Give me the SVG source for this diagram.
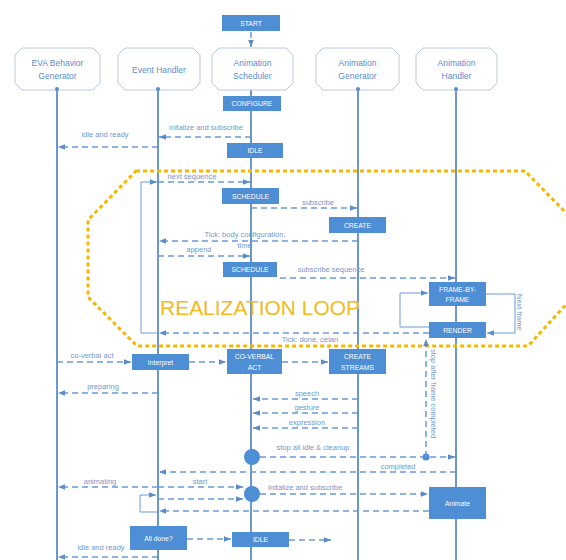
<svg xmlns="http://www.w3.org/2000/svg" width="566" height="560" viewBox="0 0 566 560">
<style>
.hdr{fill:#fff;stroke:#b9c9dd;stroke-width:1}
.hdt{font-family:"Liberation Sans",Arial,sans-serif;font-size:8.5px;fill:#5d8ccb;text-anchor:middle}
.life{stroke:#5a8cc9;stroke-width:1.8;fill:none}
.box{fill:#4e8ed4}
.bt{font-family:"Liberation Sans",Arial,sans-serif;font-size:6.8px;fill:#fff;text-anchor:middle}
.da{stroke:#6b9bd6;stroke-width:1.5;stroke-dasharray:6 4;fill:none}
.sl{stroke:#6b9bd6;stroke-width:1;fill:none}
.lbl{font-family:"Liberation Sans",Arial,sans-serif;font-size:7.5px;fill:#7398c9;text-anchor:middle}
.rot{font-family:"Liberation Sans",Arial,sans-serif;font-size:7.5px;fill:#7398c9;text-anchor:start}
.dot{fill:#4e8ed4}
</style>
<defs>
<marker id="ah" viewBox="0 0 10 10" refX="10" refY="5" markerWidth="7" markerHeight="7" markerUnits="userSpaceOnUse" orient="auto"><path d="M0,1 L10,5 L0,9 z" fill="#5a8cc9"/></marker>
</defs>
<rect width="566" height="560" fill="#fff"/>

<g id="lifelines">
<line class="life" x1="57" y1="90" x2="57" y2="560"/>
<line class="life" x1="158" y1="90" x2="158" y2="560"/>
<line class="life" x1="251" y1="90" x2="251" y2="560"/>
<line class="life" x1="358" y1="90" x2="358" y2="560"/>
<line class="life" x1="456" y1="90" x2="456" y2="560"/>
</g>

<g id="loop-region">
<polygon points="136,171 525,171 573,220 573,297 528,346 137,346 88,297 88,220" fill="none" stroke="#f5b800" stroke-width="3" stroke-dasharray="4 3"/>
<text x="160" y="315" font-family="Liberation Sans,Arial,sans-serif" font-size="20" fill="#f2ba1a" textLength="200" lengthAdjust="spacingAndGlyphs">REALIZATION LOOP</text>
</g>

<g id="eva">
<path class="hdr" d="M22,48 H93 L100,55 V83 L93,90 H22 L15,83 V55 Z"/>
<text class="hdt" x="57.5" y="66">EVA Behavior</text>
<text class="hdt" x="57.5" y="79">Generator</text>
<circle class="dot" cx="57" cy="89" r="2"/>
</g>
<g id="event-handler">
<path class="hdr" d="M125,48 H193 L200,55 V83 L193,90 H125 L118,83 V55 Z"/>
<text class="hdt" x="159" y="73">Event Handler</text>
<circle class="dot" cx="158" cy="89" r="2"/>
</g>
<g id="animation-scheduler">
<path class="hdr" d="M219,48 H286 L293,55 V83 L286,90 H219 L212,83 V55 Z"/>
<text class="hdt" x="252.5" y="66">Animation</text>
<text class="hdt" x="252.5" y="79">Scheduler</text>
</g>
<g id="animation-generator">
<path class="hdr" d="M323,48 H392 L399,55 V83 L392,90 H323 L316,83 V55 Z"/>
<text class="hdt" x="357.5" y="66">Animation</text>
<text class="hdt" x="357.5" y="79">Generator</text>
<circle class="dot" cx="358" cy="89" r="2"/>
</g>
<g id="animation-handler">
<path class="hdr" d="M423,48 H490 L497,55 V83 L490,90 H423 L416,83 V55 Z"/>
<text class="hdt" x="456.5" y="66">Animation</text>
<text class="hdt" x="456.5" y="79">Handler</text>
<circle class="dot" cx="456" cy="89" r="2"/>
</g>

<g id="start"><rect class="box" x="222" y="15" width="58" height="16"/><text class="bt" x="251" y="25.5">START</text></g>
<g id="configure"><rect class="box" x="223" y="96" width="58" height="15"/><text class="bt" x="252" y="106">CONFIGURE</text></g>
<g id="idle1"><rect class="box" x="227" y="143" width="56" height="15"/><text class="bt" x="255" y="153">IDLE</text></g>
<g id="schedule1"><rect class="box" x="222" y="188" width="57" height="16"/><text class="bt" x="250.5" y="198.5">SCHEDULE</text></g>
<g id="create"><rect class="box" x="329" y="217" width="57" height="16"/><text class="bt" x="357.5" y="227.5">CREATE</text></g>
<g id="schedule2"><rect class="box" x="223" y="262" width="54" height="15"/><text class="bt" x="250" y="272">SCHEDULE</text></g>
<g id="frame-by-frame"><rect class="box" x="429" y="282" width="57" height="24"/><text class="bt" x="457.5" y="291.5">FRAME-BY-</text><text class="bt" x="457.5" y="301.5">FRAME</text></g>
<g id="render"><rect class="box" x="429" y="322" width="57" height="16"/><text class="bt" x="457.5" y="332.5">RENDER</text></g>
<g id="interpret"><rect class="box" x="132" y="354" width="57" height="16"/><text class="bt" x="160.5" y="364.5">Interpret</text></g>
<g id="co-verbal-act"><rect class="box" x="227" y="349" width="55" height="25"/><text class="bt" x="254.5" y="359">CO-VERBAL</text><text class="bt" x="254.5" y="369.5">ACT</text></g>
<g id="create-streams"><rect class="box" x="329" y="349" width="57" height="25"/><text class="bt" x="357.5" y="359">CREATE</text><text class="bt" x="357.5" y="369.5">STREAMS</text></g>
<g id="animate"><rect class="box" x="429" y="487" width="57" height="32"/><text class="bt" x="457.5" y="505.5">Animate</text></g>
<g id="all-done"><rect class="box" x="130" y="526" width="57" height="24"/><text class="bt" x="158.5" y="540.5" font-size="7.5">All done?</text></g>
<g id="idle2"><rect class="box" x="232" y="532" width="57" height="15"/><text class="bt" x="260.5" y="542">IDLE</text></g>
<g id="stop-node"><circle class="dot" cx="252" cy="457" r="8"/></g>
<g id="init-node"><circle class="dot" cx="252" cy="494" r="8"/></g>

<g id="connectors">
<path class="da" d="M251,32 V47" marker-end="url(#ah)"/>
<path class="da" d="M251,137 H159" marker-end="url(#ah)"/>
<path class="da" d="M158,147 H58" marker-end="url(#ah)"/>
<path class="da" d="M158,182 H250" marker-end="url(#ah)"/>
<path class="da" d="M251,208 H357" marker-end="url(#ah)"/>
<path class="da" d="M358,241 H159" marker-end="url(#ah)"/>
<path class="da" d="M158,256 H250" marker-end="url(#ah)"/>
<path class="da" d="M280,278 H455" marker-end="url(#ah)"/>
<path class="da" d="M429,333 H159" marker-end="url(#ah)"/>
<path class="da" d="M57,362 H131" marker-end="url(#ah)"/>
<path class="da" d="M189,362 H226" marker-end="url(#ah)"/>
<path class="da" d="M282,362 H328" marker-end="url(#ah)"/>
<path class="da" d="M158,393 H58" marker-end="url(#ah)"/>
<path class="da" d="M358,399 H253" marker-end="url(#ah)"/>
<path class="da" d="M358,413 H253" marker-end="url(#ah)"/>
<path class="da" d="M358,428 H253" marker-end="url(#ah)"/>
<path class="da" d="M260,457 H455" marker-end="url(#ah)"/>
<circle class="dot" cx="426" cy="457" r="3.5"/>
<path class="da" d="M426,457 V339" marker-end="url(#ah)"/>
<path class="da" d="M456,472 H159" marker-end="url(#ah)"/>
<path class="da" d="M158,487 H58" marker-end="url(#ah)"/>
<path class="da" d="M158,487 H243" marker-end="url(#ah)"/>
<path class="da" d="M260,494 H428" marker-end="url(#ah)"/>
<path class="da" d="M158,499 H243" marker-end="url(#ah)"/>
<path class="da" d="M429,511 H159" marker-end="url(#ah)"/>
<path class="da" d="M187,539 H231" marker-end="url(#ah)"/>
<path class="da" d="M289,540 H331" marker-end="url(#ah)"/>
<path class="da" d="M158,557 H58" marker-end="url(#ah)"/>
<path class="sl" d="M158,333 H141 V182 H157" marker-end="url(#ah)"/>
<path class="sl" d="M429,327 H400 V293 H428" marker-end="url(#ah)"/>
<path class="sl" d="M486,294 H515 V333 H487" marker-end="url(#ah)"/>
<path class="sl" d="M158,512 H140 V495 H156" marker-end="url(#ah)"/>
</g>

<g id="labels">
<text class="lbl" x="206" y="130">initalize and subscribe</text>
<text class="lbl" x="105" y="137">idle and ready</text>
<text class="lbl" x="192" y="179">next sequence</text>
<text class="lbl" x="318" y="205">subscribe</text>
<text class="lbl" x="245" y="237">Tick: body configuration,</text>
<text class="lbl" x="244.5" y="248">time</text>
<text class="lbl" x="199" y="252">append</text>
<text class="lbl" x="331" y="272">subscribe sequence</text>
<text class="lbl" x="310" y="342">Tick: done, celan</text>
<text class="lbl" x="92" y="358">co-verbal act</text>
<text class="lbl" x="103" y="389">preparing</text>
<text class="lbl" x="307" y="396">speech</text>
<text class="lbl" x="307" y="410">gesture</text>
<text class="lbl" x="307" y="425">expression</text>
<text class="lbl" x="313" y="450">stop all idle &amp; cleanup</text>
<text class="lbl" x="398" y="469">completed</text>
<text class="lbl" x="100" y="484">animating</text>
<text class="lbl" x="200" y="484">start</text>
<text class="lbl" x="305" y="490">Initalize and subscribe</text>
<text class="lbl" x="101" y="550">idle and ready</text>
<text class="rot" transform="translate(517,294) rotate(90)">Next frame</text>
<text class="rot" transform="translate(431,349) rotate(90)">stop after frame completed</text>
</g>
</svg>
